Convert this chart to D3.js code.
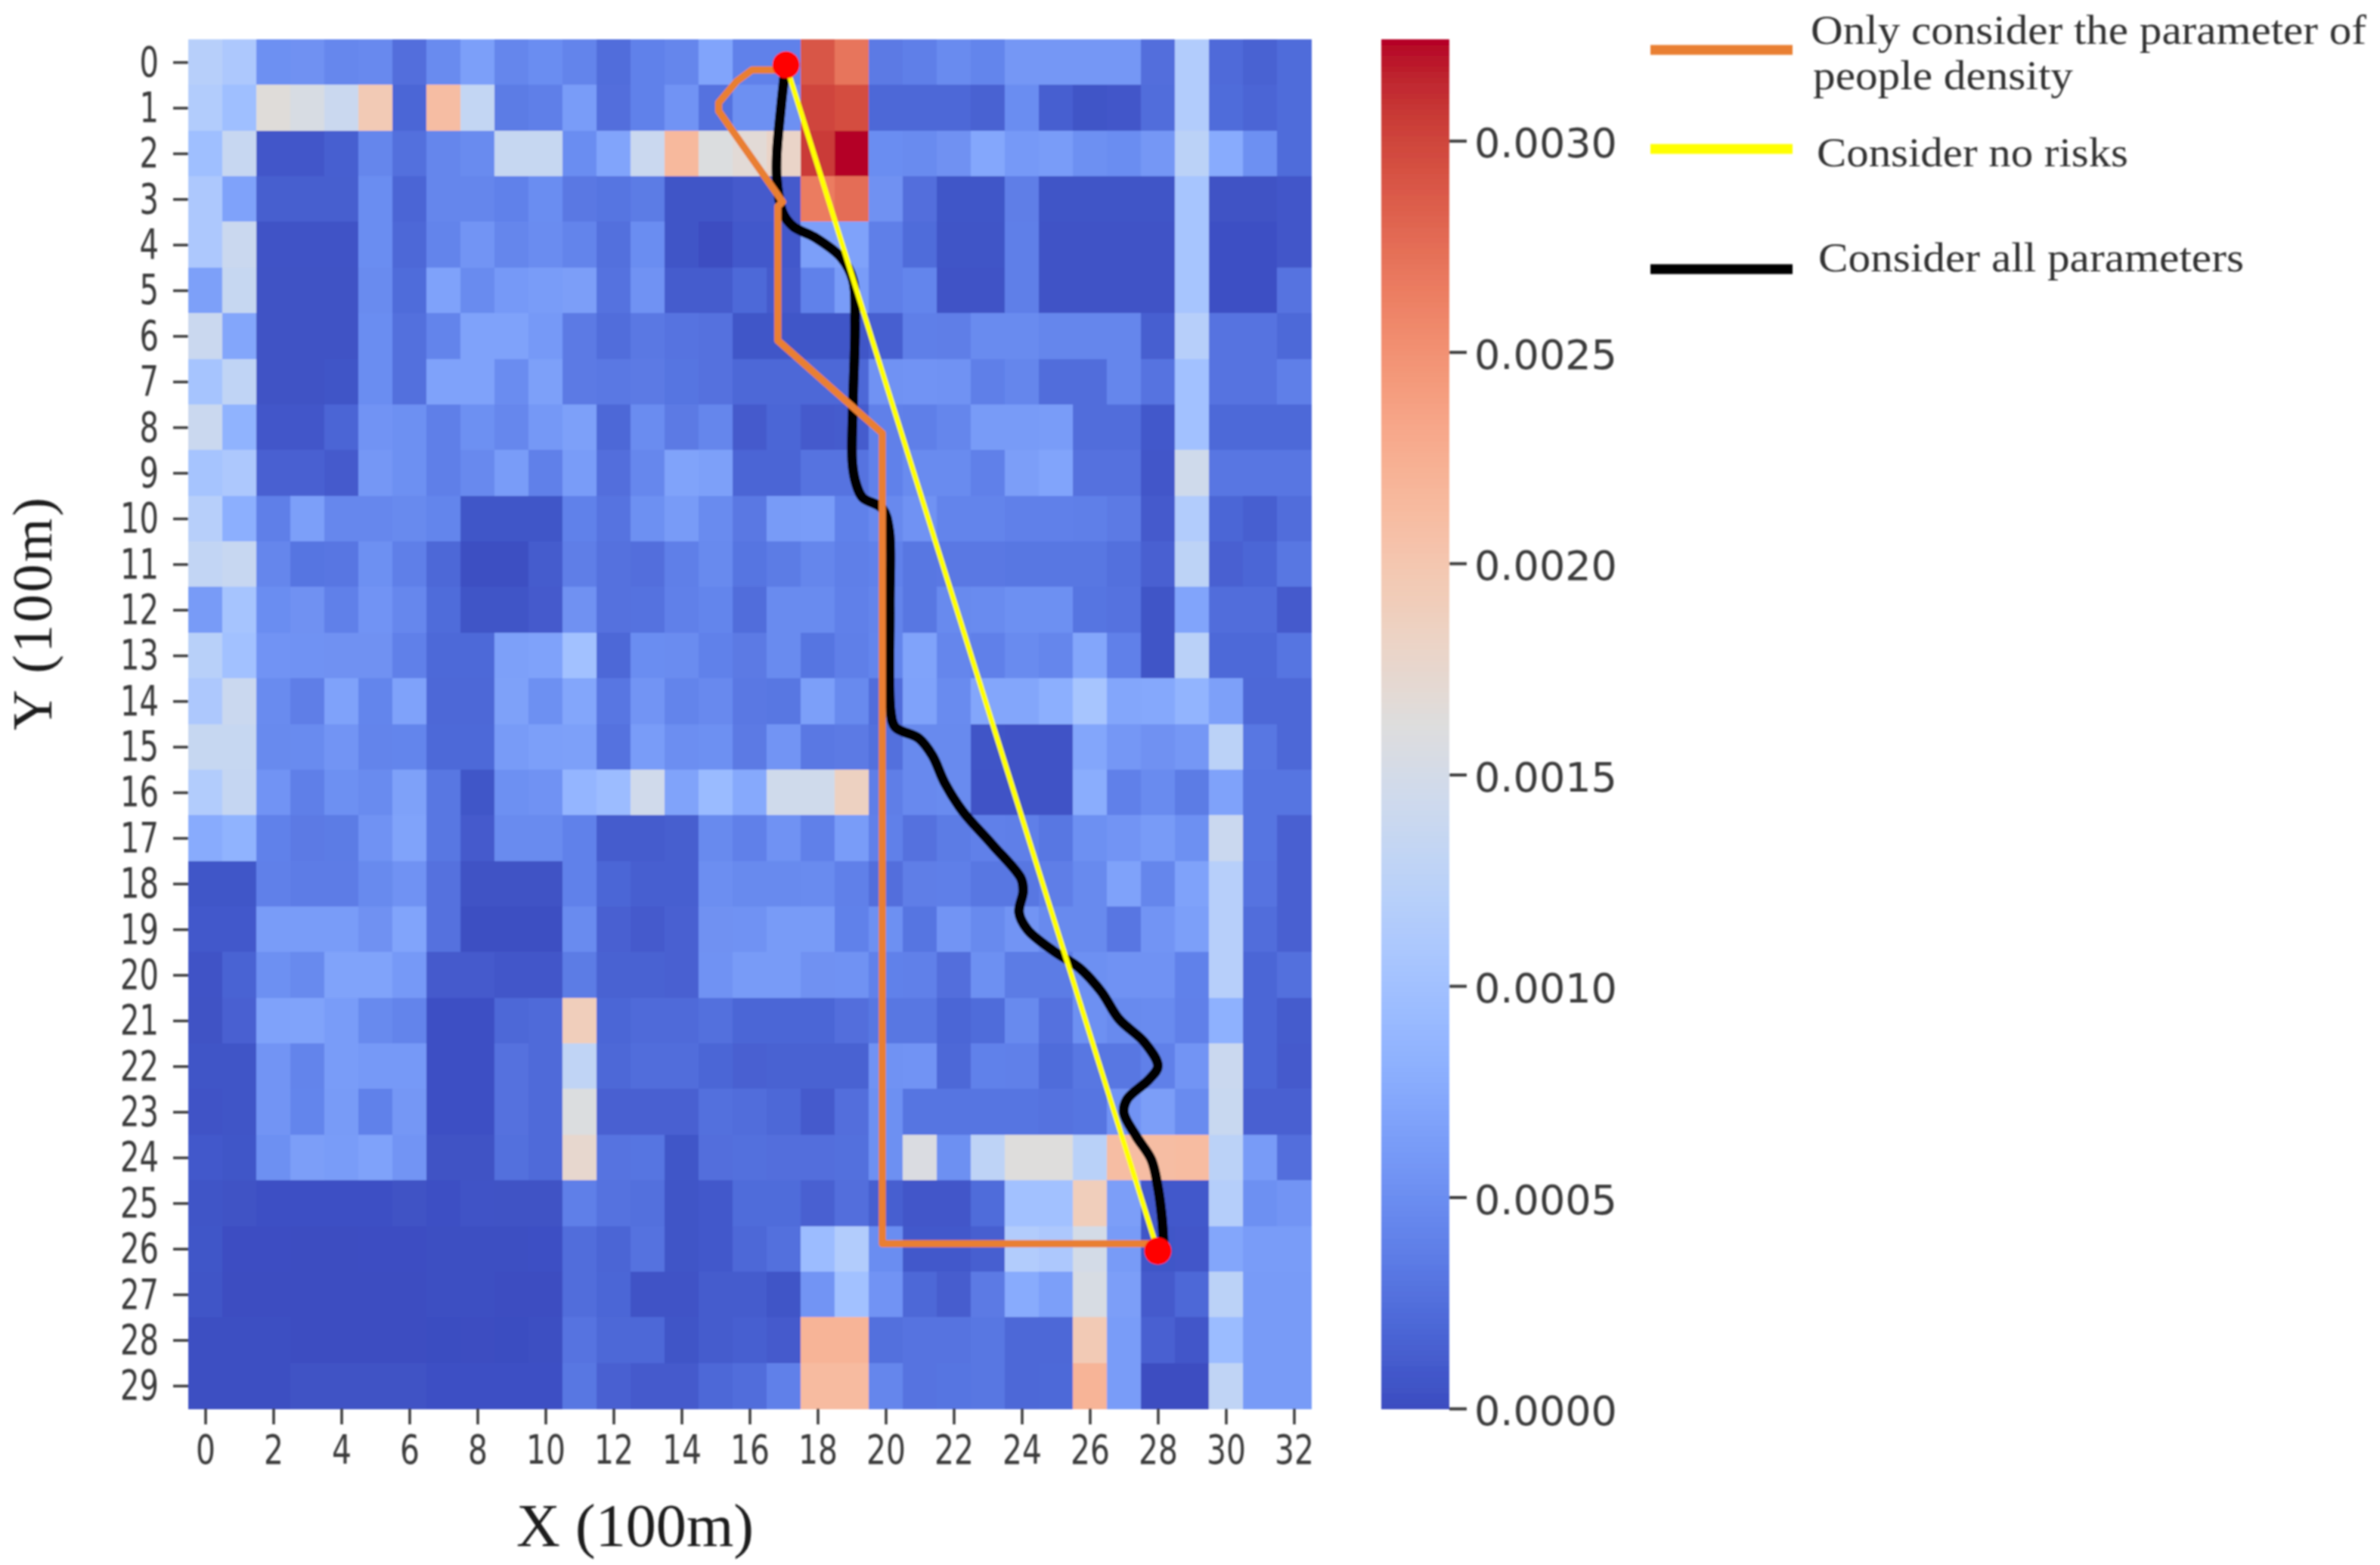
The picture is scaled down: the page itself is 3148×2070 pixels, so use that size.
<!DOCTYPE html>
<html>
    <head>
        <script src="https://cdn.jsdelivr.net/npm/d3@7"></script>
        <style>
            body { margin: 0; background: white; }
        </style>
    </head>
    <body>
        <div class="chart"></div>
    </body>
    <script>
        // risk per cell, in units of 1e-4. one array per Y row, X = 0..32
        const row00 = [12,11,5.2,5.3,4.5,4.6,2.5,4.8,6.5,4.4,5,4.2,2.4,4,4.4,7,4,4,29,27,3.4,3.8,4.8,4.3,5.8,5.8,5.8,5.8,2.5,11.5,2.2,1.6,2.3];
        const row01 = [11.5,9.8,16.5,15.5,14,19.5,1.9,21,13.3,3.5,3.8,6.3,2.5,4,5.5,2.8,5.2,5.2,30,29.5,2,2,2,1.6,5,1.4,.6,.8,2.4,11.5,2.3,1.8,2.3];
        const row02 = [9.8,13.7,.8,.8,1.4,4.4,2.6,4.4,4.8,13.6,13.6,5,7,14,21.5,16,16.8,18,30.5,32.4,5,4.8,5.3,7.3,6,6.3,5.2,5,5.8,12.5,7.6,5.2,2.3];
        const row03 = [11,6.8,1.3,1.3,1.3,5,1.8,4.4,4.4,4,5,3.3,3,3.5,.6,.6,1,1,26.5,27.5,5.3,2.5,.7,.7,3.7,.6,.6,.6,.6,10.5,.4,.4,.8];
        const row04 = [11,14,.5,.5,.5,5,2,4.2,5.6,4.4,4.9,4.2,2.6,5,.6,.1,.9,.9,6.5,6.8,3.8,2.3,.6,.6,3.8,.5,.5,.5,.5,10.5,.3,.3,.8];
        const row05 = [6.6,13.6,.4,.4,.4,4.8,2.3,6.8,4.8,6,6.3,6.4,2.8,5.4,1.1,1.1,2.1,1,4,6.3,3.8,4.3,.5,.5,3.8,.5,.5,.5,.5,10.5,.3,.3,2.9];
        const row06 = [14,7.2,.4,.4,.4,5,2.6,4.2,6.8,6.8,6,3.4,2.4,3.3,2.9,2.7,.7,.7,.7,.7,1.4,3.8,3.7,4.8,4.8,4.4,4.4,4.4,1.4,12,2.9,2.9,2.1];
        const row07 = [10.4,13,.4,.4,.6,5,2.6,6.8,6.8,4.9,6.6,3.4,3.3,3.4,3,2.7,2,2,2,2,5.4,5.5,5.4,3.8,4.4,2.4,2.4,4.4,2.9,10,2.9,2.9,3.8];
        const row08 = [14,8.4,.8,.8,1.8,5.5,5.2,3.8,5.2,4.5,5.9,6.6,2,4.9,3.4,4.4,1,1.9,1,1.1,3.9,3.8,4.4,6.2,6.2,6.3,2.4,2.4,.9,10,2.1,2.1,2.1];
        const row09 = [10.4,11,1.5,1.5,1,5.8,5.2,3.8,4.6,6.3,3.9,6.3,2.5,4.5,6.9,6.6,1.8,1.8,2.9,2.9,4,4.8,4.8,3.9,6.4,7,2.7,2.7,.8,14.5,3.1,3.1,3.1];
        const row10 = [12,8,3.8,6.5,4.5,4.5,4.7,4.3,.7,.7,.7,4,2.9,5.2,6.2,4.8,3.3,6.2,6.3,4,4.6,5.4,4.2,4.2,3.9,3.9,3.8,3.4,1,11.5,1.9,1.4,2.4];
        const row11 = [13.2,13.7,4.4,3,3.1,5.2,3.8,2,.2,.2,1.1,3.7,2.7,2.5,3.8,4.7,3,3.5,4.4,3.8,4,3.2,3.3,3.3,3.2,3.2,3.2,2.6,1.5,12.7,1.5,1.9,3.2];
        const row12 = [6.2,10.4,5,5.3,3.9,5.5,4.5,2.3,.6,.6,1,5.3,2.7,2.8,3.9,4.3,2.4,4.8,4.8,3.9,4.2,3.2,4.7,4.8,5.2,5.2,3,2.8,.6,7,2.4,2.4,1];
        const row13 = [12.2,10,5.5,5.4,5.3,5.3,3.9,2.1,2.1,6.6,6.8,10,2,5,4.9,4,3.4,4.8,3,3.8,4.3,6.9,4.4,3.9,4.8,4.4,7.2,3.9,.6,12.4,2.1,2.1,3];
        const row14 = [11,14,4.8,3.7,6.8,4.3,6.8,2,2,6.7,5.2,7.2,3.1,5.6,4.2,4.6,3.3,3.2,6.5,4.7,2.4,6.8,4.8,7.2,7.2,8,10.5,7.2,7.4,8.6,6.6,2,2];
        const row15 = [13.6,13.6,4.7,4.8,5.6,4.2,4.3,2.1,2.1,6.2,6.5,6.6,2.8,6.3,5.1,5.2,3.4,5.6,3.3,3.4,2.6,4.7,4.7,.6,.5,.5,7.2,5.8,5.3,5.8,12.5,3.2,2];
        const row16 = [11.5,13.5,5.5,3.8,5.2,4.8,6.7,3.2,.7,5.2,5.4,8.7,9.5,14.6,6.9,9.3,7.5,14.5,14.5,18.5,3.7,4.6,4.8,.5,.5,.5,7.8,3.9,4.8,3.5,6.8,3,3];
        const row17 = [7.6,8.4,4,3.4,3.5,5.4,6.9,3.2,1,4.8,4.8,4,1.1,1.1,1.3,4.7,3.9,5.4,3.9,6.3,3.9,2.7,3.5,3.9,3.8,3.2,5.2,5.6,6.2,5.2,14,3,1.5];
        const row18 = [.7,.7,3.9,3.6,3.6,4.7,5.4,2.7,.4,.4,.4,4,1.9,1.4,1.4,5.1,4.7,4.7,4.8,3.9,2.5,3.7,3.8,3.2,3.2,3.7,4.7,6.8,4.4,6.8,12,2.9,1.5];
        const row19 = [.9,.9,6.3,6.3,6.3,5.3,7,2.7,.2,.2,.2,4.8,1.5,1,1.5,5.3,5.4,6.2,6.2,4,5.2,3,5.6,4.7,5.6,4.7,4.7,3.1,5.6,6.5,12,2.4,1.5];
        const row20 = [.5,1.7,5.2,4.7,6.9,6.9,6,1,1,.8,.8,3.5,1.6,1.6,1.5,5.4,6.2,6.2,5.3,5.4,4,3.9,2.5,5.2,3.5,3.5,5.2,5.4,5.4,4,12,1.9,2.6];
        const row21 = [.4,1.5,6.8,6.9,6.3,4.7,4.2,.3,.3,2,2.2,19,1.9,2.2,2.2,2.6,1.9,1.9,1.9,2.5,3.2,3.2,1.9,2.3,4.7,2.7,5.2,4.7,4.8,3.9,8.2,1.9,1.1];
        const row22 = [.6,.6,5.6,4.2,6.3,6,6,.3,.3,2.7,2.2,13,2,2.4,2.4,1.9,1.5,1.6,1.6,1.6,5.4,5.5,2,4,3.9,2.3,3.2,3.2,3.9,5.6,14,1.9,1];
        const row23 = [.5,.6,5.6,4.3,6.2,4,5.8,.3,.3,2.7,2.2,16,1.5,1.5,1.5,2.6,2.4,2,1,2.5,5.2,3,3,3,3,2.8,3,5.5,6.4,4.8,13.8,1.5,1.5];
        const row24 = [.9,.7,5.2,6.4,6.3,6.8,5.6,.4,.4,2.6,2.2,17.5,2.9,3,.7,2.5,2.6,2.5,2.5,2.6,5.2,15.8,5.2,12.8,16.3,16.3,12.3,21,21,21.2,12.5,6.2,2.5];
        const row25 = [.6,.4,.3,.3,.3,.3,.4,.3,.5,.4,.4,3.8,2.8,2.6,.6,.9,2.3,2.3,1.5,2.5,1.4,.8,.8,2.3,10,10,19,6.4,.9,.9,11.8,5.2,5.6];
        const row26 = [.7,.15,.15,.1,.1,.15,.15,.2,.2,.2,.3,2.4,1.8,2.8,.6,.9,2,2.6,9.5,11.5,5,.9,.9,1.4,11.5,11,15,6.2,.7,.8,7.2,6.3,6.3];
        const row27 = [.6,.1,.1,.1,.1,.1,.1,.2,.2,.1,.1,2.4,1.9,.5,.5,1.1,1.1,.6,5.6,10,5.5,2,1.2,3.4,7.6,6.5,15.5,6.4,1,2,12.5,6.2,6.2];
        const row28 = [.2,.2,.2,.1,.1,.1,.1,.05,.1,.05,.2,2.9,2,2,.6,1.1,1.4,1,22,22,2.6,2.9,2.9,3.2,2,2,19.5,6.3,1.5,.8,9.4,6.2,6.2];
        const row29 = [.2,.2,.2,.4,.4,.4,.4,.3,.3,.3,.3,3.2,1.5,1,1,2,2.4,3.9,21.3,21.3,4.4,2.9,3,3.2,2,2.1,22,6.3,.1,.1,13,6.2,6.2];
        const riskRows = [row00,row01,row02,row03,row04,row05,row06,row07,row08,row09,row10,row11,row12,row13,row14,row15,row16,row17,row18,row19,row20,row21,row22,row23,row24,row25,row26,row27,row28,row29];

        // routes, [x, y] in grid cells
        const noRiskRoute = [[17.07,.06],[28,26.05]];
        const densityRoute = [[17.07,.17],[16.07,.17],[15.62,.42],[15.09,.89],[15.09,1.07],[15.56,1.57],[16.97,3.06],[16.83,3.16],[16.83,6.1],[19.9,8.13],[19.9,25.89],[28,25.89]];
        const allParamsRoute = [[17.03,.25],[16.92,1],[16.8,2.01],[16.8,2.55],[16.97,3.29],[17.28,3.6],[17.92,3.84],[18.69,4.28],[19.04,4.78],[19.1,5.73],[19.04,7.42],[19.02,8.78],[19.13,9.24],[19.32,9.54],[19.9,9.78],[20.1,10.25],[20.12,11.94],[20.15,14.24],[20.28,14.57],[20.98,14.82],[21.37,15.19],[21.74,15.8],[22.26,16.41],[23.14,17.15],[23.98,17.89],[24.04,18.17],[23.92,18.63],[24.17,19.01],[24.94,19.48],[25.7,19.85],[26.34,20.37],[26.86,20.97],[27.61,21.48],[28,22],[27.74,22.29],[27.1,22.72],[27,23.02],[27.36,23.53],[27.81,24.05],[28,24.65],[28.12,25.32],[28.17,25.89]];
        const endpoints = [[17.07,.06],[28,26.05]];

        const xTicks = d3.range(0, 33, 2);
        const yTicks = d3.range(0, 30);
        const barTicks = [0, .0005, .001, .0015, .002, .0025, .003];
        const maxRisk = .00324;

        // coolwarm colormap stops
        const coolwarm = ["#3b4cc0","#445acc","#4d68d7","#5775e1","#6282ea","#6c8ef1","#779af7","#82a5fb","#8db0fe","#98b9ff","#a3c2ff","#aec9fd","#b8d0f9","#c2d5f4","#ccd9ee","#d5dbe6","#dddddd","#e5d8d1","#ecd3c5","#f1ccb8","#f5c4ad","#f7bba0","#f7b194","#f7a689","#f49a7b","#f18d6f","#ec7f63","#e57058","#de604d","#d55042","#cb3e38","#c0282f","#b40426"];

        const legendLabels = [["Only consider the parameter of","people density"],["Consider no risks"],["Consider all parameters"]];
        const legendColors = ["#e97f33","#ffff00","#000000"];

        const width = 3148;
        const height = 2070;
        const plot = {left: 249, right: 1734, top: 52, bottom: 1863};
        const bar = {left: 1827, right: 1917};

        const root = d3.select(".chart").append("svg")
            .attr("width", width).attr("height", height)
            .style("display", "block");
        // the original is a soft, upscaled bitmap
        root.append("defs").append("filter").attr("id", "soften")
            .attr("filterUnits", "userSpaceOnUse")
            .attr("x", 0).attr("y", 0).attr("width", width).attr("height", height)
            .append("feGaussianBlur").attr("stdDeviation", 1.2);
        const svg = root.append("g").attr("filter", "url(#soften)");

        const x = d3.scaleLinear().domain([-.5, 32.5]).range([plot.left, plot.right]);
        const y = d3.scaleLinear().domain([-.5, 29.5]).range([plot.top, plot.bottom]);
        const color = d3.scaleSequential(d3.piecewise(d3.interpolateRgb, coolwarm)).domain([0, maxRisk]);
        const barY = d3.scaleLinear().domain([0, maxRisk]).range([plot.bottom, plot.top]);

        // cells
        const cells = riskRows.flatMap((row, r) => row.map((v, c) => ({r, c, v: v * 1e-4})));
        svg.append("g").selectAll("rect").data(cells).join("rect")
            .attr("x", d => x(d.c - .5))
            .attr("y", d => y(d.r - .5))
            .attr("width", x(1) - x(0) + .5)
            .attr("height", y(1) - y(0) + .5)
            .attr("shape-rendering", "crispEdges")
            .attr("fill", d => color(d.v));

        // axes, digits are squeezed sideways in the original
        const squeeze = (g, size, digitW) => {
            g.select(".domain").remove();
            g.selectAll("line").attr("stroke", "#3a3a3a").attr("stroke-width", 3.5);
            g.selectAll("text")
                .attr("fill", "#3a3a3a")
                .style("font", size + "px 'DejaVu Sans'")
                .attr("textLength", d => String(d).length * digitW)
                .attr("lengthAdjust", "spacingAndGlyphs");
        };
        svg.append("g").attr("transform", `translate(0,${plot.bottom})`)
            .call(d3.axisBottom(x).tickValues(xTicks).tickSize(21).tickPadding(14))
            .call(g => squeeze(g, 53, 26));
        svg.append("g").attr("transform", `translate(${plot.left},0)`)
            .call(d3.axisLeft(y).tickValues(yTicks).tickSize(20).tickPadding(19))
            .call(g => squeeze(g, 56, 25.5));

        // routes
        const straight = d3.line().x(d => x(d[0])).y(d => y(d[1]));
        const smooth = d3.line().x(d => x(d[0])).y(d => y(d[1])).curve(d3.curveCatmullRom);
        const drawRoute = (d, stroke, w) => svg.append("path")
            .attr("d", d).attr("fill", "none")
            .attr("stroke", stroke).attr("stroke-width", w)
            .attr("stroke-linejoin", "round").attr("stroke-linecap", "round");
        drawRoute(smooth(allParamsRoute), legendColors[2], 13);
        drawRoute(straight(densityRoute), legendColors[0], 9.5);
        drawRoute(straight(noRiskRoute), legendColors[1], 7);

        svg.append("g").selectAll("circle").data(endpoints).join("circle")
            .attr("cx", d => x(d[0])).attr("cy", d => y(d[1]))
            .attr("r", 18).attr("fill", "#ff0000");

        // colorbar
        svg.append("g").selectAll("rect").data(d3.range(0, 256)).join("rect")
            .attr("x", bar.left)
            .attr("width", bar.right - bar.left)
            .attr("y", d => barY((d + 1) / 256 * maxRisk))
            .attr("height", (plot.bottom - plot.top) / 256 + 1)
            .attr("shape-rendering", "crispEdges")
            .attr("fill", d => color((d + .5) / 256 * maxRisk));
        svg.append("g").attr("transform", `translate(${bar.right},0)`)
            .call(d3.axisRight(barY).tickValues(barTicks).tickFormat(d3.format(".4f")).tickSize(23).tickPadding(10))
            .call(g => {
                g.select(".domain").remove();
                g.selectAll("line").attr("stroke", "#3a3a3a").attr("stroke-width", 4);
                g.selectAll("text").attr("fill", "#3a3a3a").attr("dy", ".4em").style("font", "54px 'DejaVu Sans'");
            });

        // axis titles
        svg.append("text").text("X (100m)")
            .attr("x", 683).attr("y", 2045)
            .attr("textLength", 314).attr("lengthAdjust", "spacingAndGlyphs")
            .attr("fill", "#1a1a1a").style("font", "80px 'Liberation Serif'");
        svg.append("text").text("Y (100m)")
            .attr("transform", "translate(68,966) rotate(-90)")
            .attr("textLength", 308)
            .attr("fill", "#1a1a1a").style("font", "74px 'Liberation Serif'");

        // legend
        const legendLineY = [66, 197, 356];
        const legendTextX = [[2395, 2398], [2403], [2405]];
        const legendTextY = [[58, 118], [220], [359]];
        const legendTextW = [[735, 344], [412], [563]];
        legendLabels.forEach((lines, i) => {
            svg.append("line")
                .attr("x1", 2183).attr("x2", 2371)
                .attr("y1", legendLineY[i]).attr("y2", legendLineY[i])
                .attr("stroke", legendColors[i]).attr("stroke-width", 13);
            lines.forEach((t, j) => {
                svg.append("text").text(t)
                    .attr("x", legendTextX[i][j]).attr("y", legendTextY[i][j])
                    .attr("textLength", legendTextW[i][j]).attr("lengthAdjust", "spacingAndGlyphs")
                    .attr("fill", "#333333").style("font", "54px 'Liberation Serif'");
            });
        });
    </script>
</html>
